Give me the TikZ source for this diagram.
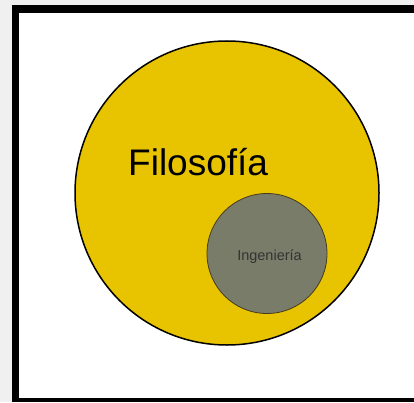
\documentclass[tikz,border=0pt]{standalone}
\usepackage{fontspec}
\setmainfont{Liberation Sans}
\definecolor{filo}{RGB}{232,195,0}
\definecolor{inge}{RGB}{122,124,106}
\definecolor{ingeline}{RGB}{70,60,25}
\definecolor{backdrop}{RGB}{240,240,240}
\usepackage{tikz}
\usetikzlibrary{positioning}

\begin{document}
\begin{tikzpicture}[x=1pt,y=1pt]
  \useasboundingbox (0,0) rectangle (414,402);
  \fill[backdrop] (0,0) rectangle (414,402);
  \fill[black] (12,0) rectangle (414,397);
  \fill[white] (19,4) rectangle (414,389);
  \node[circle,draw=black,line width=1.5pt,fill=filo,minimum size=304pt,inner sep=0pt] (filosofia) at (227,209) {};
  \node[circle,draw=ingeline,line width=0.8pt,fill=inge,minimum size=120pt,inner sep=0pt] (ingenieria) at (267,148.5) {};
  \node[anchor=base west,inner sep=0pt] (filolabel) at (128,227) {\fontsize{37}{40}\selectfont Filosofía};
  \node[anchor=base,inner sep=0pt,text=black!80] (ingelabel) at (269.5,142) {\fontsize{14.5}{16}\selectfont Ingeniería};
\end{tikzpicture}
\end{document}
